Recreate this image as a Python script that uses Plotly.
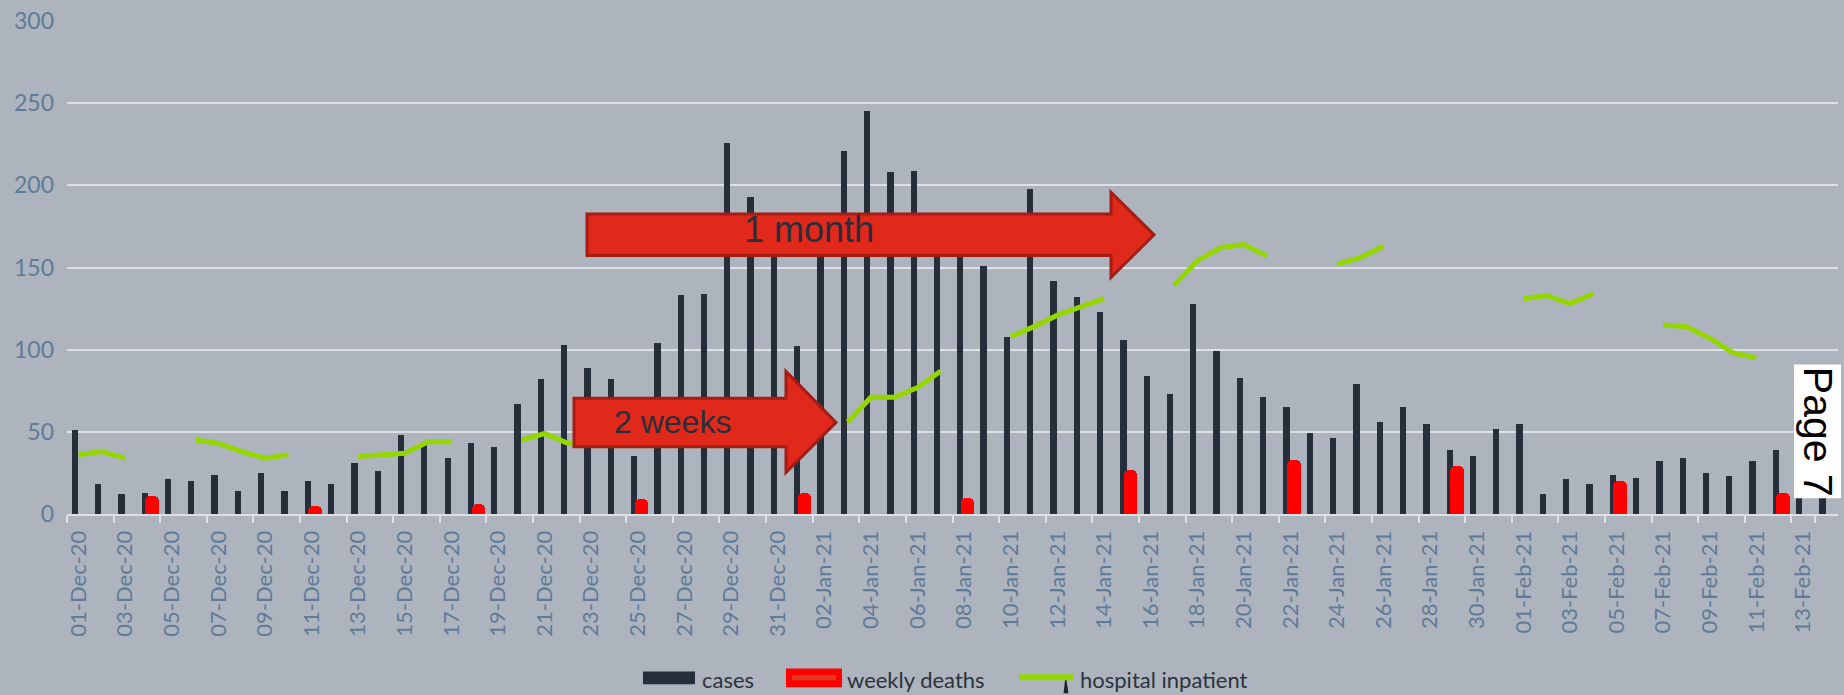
import pandas as pd
import plotly.graph_objects as go

# ---------------- data ----------------
dates = pd.date_range("2020-12-01", "2021-02-14", freq="D")
categories = [d.strftime("%d-%b-%y") for d in dates]
tick_labels = categories[::2]

cases = [51, 18, 12, 13, 21, 20, 24, 14, 25, 14, 20, 18, 31, 26, 48, 42, 34, 43, 41, 67,
         82, 103, 89, 82, 35, 104, 133, 134, 226, 193, 165,
         102, 172, 221, 245, 208, 209, 175, 168, 151, 108, 198, 142, 132, 123, 106, 84, 73,
         128, 99, 83, 71, 65, 49, 46, 79, 56, 65, 55, 39, 35, 52,
         55, 12, 21, 18, 24, 22, 32, 34, 25, 23, 32, 39, 15, 12]

N = None
weekly_deaths = [N, N, N, 11, N, N, N, N, N, N, 5, N, N, N, N, N, N, 6, N, N,
                 N, N, N, N, 9, N, N, N, N, N, N,
                 13, N, N, N, N, N, N, 10, N, N, N, N, N, N, 27, N, N,
                 N, N, N, N, 33, N, N, N, N, N, N, 29, N, N,
                 N, N, N, N, 20, N, N, N, N, N, N, 13, N, N]

hospital_inpatient = [36, 38, 34, N, N, 45, 43, 38, 34, 36, N, N, 35, 36, 37, 44, 44, N, N, 45,
                      49, 43, 44, 46, N, N, N, N, N, N, N,
                      N, N, 56, 71, 71, 77, 87, N, N, 108, 114, 121, 126, 131, N, N, 139,
                      154, 162, 164, 157, N, N, 152, 156, 163, N, N, N, N, N,
                      131, 133, 128, 134, N, N, 115, 114, 107, 98, 95, N, N, N]

# ---------------- styling ----------------
BG = "#adb4bd"
GRID = "#dde1e6"
CASE_C = "#252e39"
DEATH_C = "#ff0000"
LINE_C = "#94d600"
TICK_C = "#5f7b99"
TEXT_C = "#2b333d"
ARROW_FILL = "#e0291a"
ARROW_EDGE = "#a51c12"

W, H = 1844, 695
L, R, T, B = 67, 6, 16, 181
PW, PH = W - L - R, H - T - B


def px(x):
    return (x - L) / PW


def py(y):
    return (H - B - y) / PH


fig = go.Figure()
fig.add_trace(go.Bar(x=categories, y=cases, name="cases", marker_color=CASE_C,
                     width=0.27, offset=-0.30, marker_line_width=0))
fig.add_trace(go.Bar(x=categories, y=weekly_deaths, name="weekly deaths", marker_color=DEATH_C,
                     width=0.575, offset=-0.14, marker_line_width=0,
                     marker_cornerradius=5))
fig.add_trace(go.Scatter(x=categories, y=hospital_inpatient, name="hospital inpatient",
                         mode="lines", line=dict(color=LINE_C, width=5),
                         connectgaps=False))

shapes = []


def arrow(x0, yt, yb, xh, yht, yhb, xt):
    yc = (yt + yb) / 2
    pts = [(x0, yt), (xh, yt), (xh, yht), (xt, yc), (xh, yhb), (xh, yb), (x0, yb)]
    path = "M " + " L ".join(f"{px(a):.5f},{py(b):.5f}" for a, b in pts) + " Z"
    shapes.append(dict(type="path", xref="paper", yref="paper", path=path,
                       fillcolor=ARROW_FILL, line=dict(color=ARROW_EDGE, width=3),
                       layer="above"))


arrow(587, 211, 253, 1111, 189, 275, 1154)
arrow(574, 397, 446, 786, 370, 472, 836)

# Page 7 box
shapes.append(dict(type="rect", xref="paper", yref="paper",
                   x0=px(1794), x1=px(1841), y0=py(498), y1=py(363),
                   fillcolor="white", line=dict(width=0), layer="above"))

# custom legend
shapes.append(dict(type="rect", xref="paper", yref="paper",
                   x0=px(643), x1=px(695), y0=py(686), y1=py(673),
                   fillcolor=CASE_C, line=dict(width=0)))
shapes.append(dict(type="rect", xref="paper", yref="paper",
                   x0=px(786), x1=px(842), y0=py(689), y1=py(670),
                   fillcolor=DEATH_C, line=dict(width=0)))
shapes.append(dict(type="rect", xref="paper", yref="paper",
                   x0=px(792), x1=px(836), y0=py(682), y1=py(677),
                   fillcolor="#e03a22", line=dict(width=0)))
shapes.append(dict(type="line", xref="paper", yref="paper",
                   x0=px(1019), x1=px(1073), y0=py(679), y1=py(679),
                   line=dict(color=LINE_C, width=6)))
shapes.append(dict(type="path", xref="paper", yref="paper",
                   path=f"M {px(1063.5)},{py(695)} L {px(1068.5)},{py(695)} L {px(1066.5)},{py(682)} L {px(1065)},{py(682)} Z",
                   fillcolor="#1e252d", line=dict(width=0)))

annotations = [
    dict(text="1 month", x=px(809), y=py(227), xref="paper", yref="paper",
         showarrow=False, font=dict(family="Liberation Sans, Arial", size=36, color="#2a2e3a"),
         xanchor="center", yanchor="middle"),
    dict(text="2 weeks", x=px(672), y=py(421), xref="paper", yref="paper",
         showarrow=False, font=dict(family="Liberation Sans, Arial", size=32, color="#2a2e3a"),
         xanchor="center", yanchor="middle"),
    dict(text="Page 7", x=px(1818), y=py(431), xref="paper", yref="paper",
         showarrow=False, textangle=90, font=dict(family="Liberation Sans, Arial", size=41, color="black"),
         xanchor="center", yanchor="middle"),
]
for txt, x0 in [("cases", 700), ("weekly deaths", 845), ("hospital inpatient", 1078)]:
    annotations.append(dict(text=txt, x=px(x0), y=py(681), xref="paper", yref="paper",
                            showarrow=False, xanchor="left", yanchor="middle",
                            font=dict(family="Lato, Noto Sans", size=22, color=TEXT_C)))

fig.update_layout(
    width=W, height=H,
    margin=dict(l=L, r=R, t=T, b=B, pad=0),
    paper_bgcolor=BG, plot_bgcolor=BG,
    barmode="overlay", bargap=0,
    showlegend=False,
    shapes=shapes, annotations=annotations,
    font=dict(family="Lato, Noto Sans", color=TICK_C),
)
fig.update_xaxes(
    type="category", categoryorder="array", categoryarray=categories,
    range=[-0.5, len(categories) - 0.5],
    tickmode="array", tickvals=tick_labels, ticktext=tick_labels,
    tickangle=-90, tickson="boundaries", ticks="outside", ticklen=7, tickwidth=2,
    tickcolor=GRID, showline=True, linecolor=GRID, linewidth=2, showgrid=False,
    tickfont=dict(family="Lato, Noto Sans", size=22, color=TICK_C),
    ticklabelstandoff=6,
)
fig.update_yaxes(
    range=[0, 300], tickvals=[0, 50, 100, 150, 200, 250, 300],
    showgrid=True, gridcolor=GRID, gridwidth=2, zeroline=False,
    tickfont=dict(family="Lato, Noto Sans", size=23, color=TICK_C),
    ticklabelstandoff=12,
)

fig.write_html("out.html", config={"displayModeBar": False},
               post_script="document.body.style.margin='0';document.body.style.overflow='hidden';")
